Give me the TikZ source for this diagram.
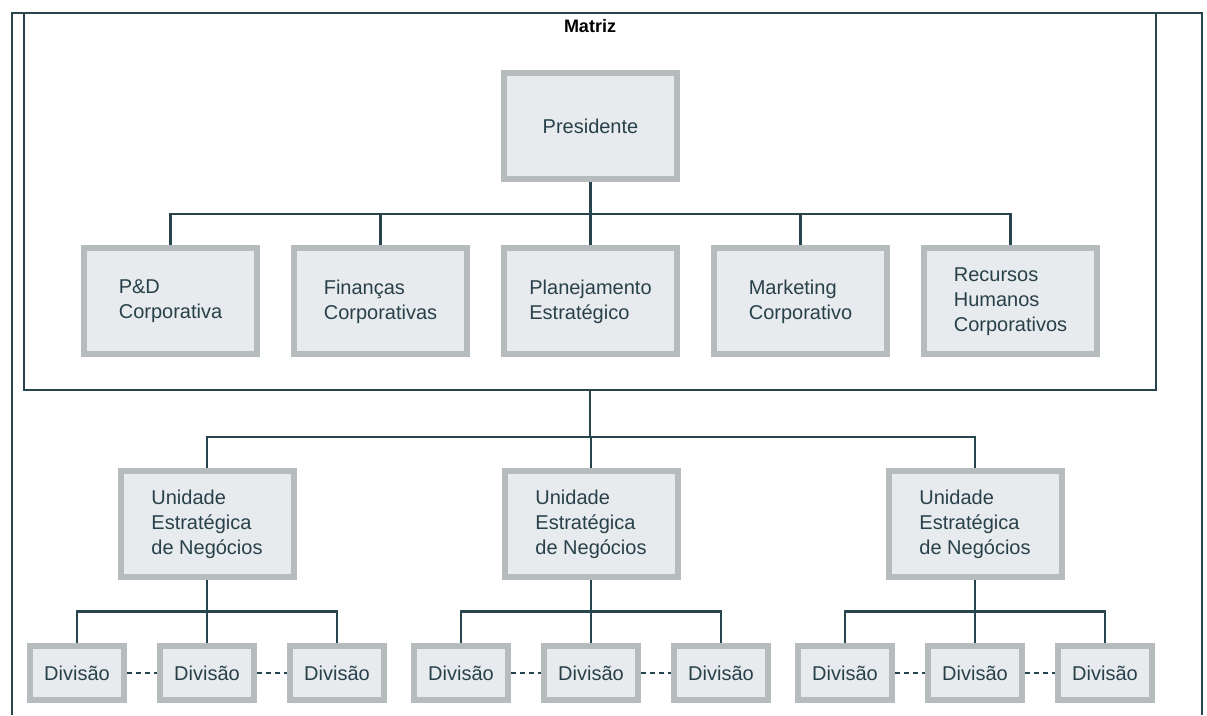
\documentclass[tikz,border=0pt]{standalone}
\usepackage{fontspec}
\setmainfont{Liberation Sans}
\usetikzlibrary{positioning,calc}
\definecolor{ink}{RGB}{40,64,74}
\definecolor{rule}{RGB}{40,68,76}
\definecolor{boxgray}{RGB}{182,187,190}
\definecolor{boxfill}{RGB}{232,235,237}

\begin{document}
\begin{tikzpicture}[x=1pt, y=1pt, font=\fontsize{20}{25}\selectfont, text=ink, unit/.style={draw=boxgray, line width=6pt, fill=boxfill, align=left, minimum width=173pt, minimum height=106pt}, div/.style={unit, minimum width=94pt, minimum height=54pt}, frame/.style={draw=rule, line width=2.6pt}, link/.style={draw=rule, line width=2.2pt}, dots/.style={link, dash pattern=on 5pt off 4pt}]
\useasboundingbox (0,0) rectangle (1207,715);
% outer frame and the headquarters box
\draw[frame] (12,0) |- (1202,702) -- (1202,0);
\node[frame, minimum width=1132pt, minimum height=377pt, inner sep=0pt] (matriz) at (590,513.5) {};
\node[font=\fontsize{18}{21}\selectfont\bfseries, text=black, below=4pt of matriz.north] (mlabel) {Matriz};
% corporate level
\node[unit] (pres) at (590.5,588.5) {Presidente};
\node[unit, below=63pt of pres] (plan) {Planejamento\\Estratégico};
\node[unit, left=31pt of plan] (fin) {Finanças\\Corporativas};
\node[unit, left=31pt of fin] (pd) {P\&D\\Corporativa};
\node[unit, right=31pt of plan] (mkt) {Marketing\\Corporativo};
\node[unit, right=31pt of mkt] (rh) {Recursos\\Humanos\\Corporativos};
\coordinate (bus1) at ($(pres.south)!0.5!(plan.north)$);
\draw[link] (pres.south) -- (bus1);
\foreach \n in {pd,fin,plan,mkt,rh} \draw[link] (bus1) -| (\n.north);
% business units
\node[unit] (sbu2) at (591,191) {Unidade\\Estratégica\\de Negócios};
\node[unit, left=205pt of sbu2] (sbu1) {Unidade\\Estratégica\\de Negócios};
\node[unit, right=205pt of sbu2] (sbu3) {Unidade\\Estratégica\\de Negócios};
\coordinate (bus2) at ($(matriz.south)+(0,-46)$);
\draw[link] (matriz.south) -- (bus2);
\foreach \s in {1,2,3} \draw[link] (bus2) -| (sbu\s.north);
% divisions
\foreach \s in {1,2,3} {
  \node[div, below=63pt of sbu\s] (d\s2) {Divisão};
  \node[div, left=30pt of d\s2] (d\s1) {Divisão};
  \node[div, right=30pt of d\s2] (d\s3) {Divisão};
  \coordinate (b\s) at ($(sbu\s.south)!0.5!(d\s2.north)$);
  \draw[link] (sbu\s.south) -- (d\s2.north);
  \draw[link] (b\s) -| (d\s1.north); \draw[link] (b\s) -| (d\s3.north);
  \draw[dots] (d\s1) -- (d\s2); \draw[dots] (d\s2) -- (d\s3);
}
\end{tikzpicture}
\end{document}
